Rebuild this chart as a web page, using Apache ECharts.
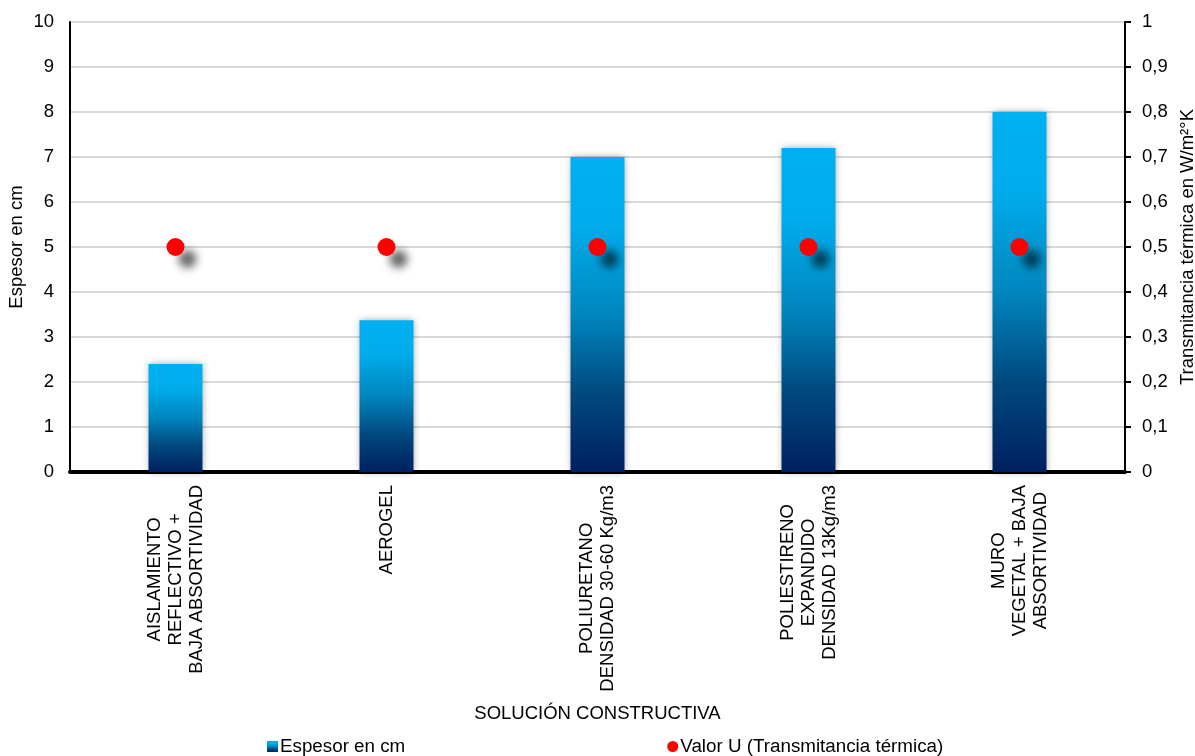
<!DOCTYPE html>
<html>
<head>
<meta charset="utf-8">
<script src="https://cdn.jsdelivr.net/npm/echarts@6/dist/echarts.min.js"></script>
<style>html,body{margin:0;padding:0;background:#fff;overflow:hidden;}#c{width:1195px;height:756px;}</style>
</head>
<body>
<div id="c"></div>
<script>
var categories = [
  'AISLAMIENTO\nREFLECTIVO +\nBAJA ABSORTIVIDAD',
  'AEROGEL',
  'POLIURETANO\nDENSIDAD 30-60 Kg/m3',
  'POLIESTIRENO\nEXPANDIDO\nDENSIDAD 13Kg/m3',
  'MURO\nVEGETAL + BAJA\nABSORTIVIDAD'
];
var espesor = [2.4, 3.37, 7, 7.2, 8];
var valorU = [0.5, 0.5, 0.5, 0.5, 0.5];
var leftTicks = [0, 1, 2, 3, 4, 5, 6, 7, 8, 9, 10];
var rightTicks = ['0', '0,1', '0,2', '0,3', '0,4', '0,5', '0,6', '0,7', '0,8', '0,9', '1'];

var FONT = '"Liberation Sans", Arial, sans-serif';
var FS = 18.5;
var chart = echarts.init(document.getElementById('c'), null, {renderer: 'canvas'});
var barGrad = new echarts.graphic.LinearGradient(0, 0, 0, 1, [
  {offset: 0, color: '#00B0F0'},
  {offset: 0.22, color: '#00ACEC'},
  {offset: 0.5, color: '#0086BE'},
  {offset: 0.75, color: '#00497F'},
  {offset: 1, color: '#002060'}
]);
var option = {
  animation: false,
  backgroundColor: '#fff',
  textStyle: {fontFamily: FONT, color: '#000'},
  grid: {left: 70, right: 70, top: 22, bottom: 284, containLabel: false, outerBoundsMode: 'none'},
  legend: {
    top: 732,
    left: 262,
    itemGap: 262,
    itemWidth: 11,
    itemHeight: 11,
    textStyle: {fontFamily: FONT, fontSize: 18.8, color: '#000', padding: [0, 0, 0, -3]},
    data: [
      {name: 'Espesor en cm', icon: 'rect'},
      {name: 'Valor U (Transmitancia térmica)', icon: 'circle', itemStyle: {color: '#FF0000'}}
    ]
  },
  xAxis: {
    type: 'category',
    data: categories,
    name: 'SOLUCIÓN CONSTRUCTIVA',
    nameLocation: 'middle',
    nameGap: 232,
    nameMoveOverlap: false,
    nameTextStyle: {fontFamily: FONT, fontSize: FS, color: '#000'},
    axisLine: {show: true, lineStyle: {color: '#000', width: 4}},
    axisTick: {show: false},
    axisLabel: {
      interval: 0,
      rotate: 90,
      margin: 13,
      fontFamily: FONT,
      fontSize: FS,
      color: '#000',
      lineHeight: 21,
      formatter: function (v) {
        return v.split('\n').map(function (l) { return '{c|' + l + '}'; }).join('\n');
      },
      rich: {c: {align: 'center', fontFamily: FONT, fontSize: FS, color: '#000', lineHeight: 21}}
    }
  },
  yAxis: [
    {
      type: 'value',
      min: 0, max: 10, interval: 1,
      name: 'Espesor en cm',
      nameLocation: 'middle',
      nameRotate: 90,
      nameGap: 44,
      nameMoveOverlap: false,
      nameTextStyle: {fontFamily: FONT, fontSize: FS, color: '#000'},
      axisLine: {show: true, lineStyle: {color: '#000', width: 2}},
      axisTick: {show: false},
      axisLabel: {
        fontFamily: FONT, fontSize: FS, color: '#000', margin: 16,
        formatter: function (v) { return String(leftTicks[Math.round(v)]); }
      },
      splitLine: {show: true, lineStyle: {color: '#D9D9D9', width: 2}}
    },
    {
      type: 'value',
      min: 0, max: 1, interval: 0.1,
      name: 'Transmitancia térmica en W/m²°K',
      nameLocation: 'middle',
      nameRotate: 90,
      nameGap: 53,
      nameTextStyle: {fontFamily: FONT, fontSize: FS, color: '#000'},
      axisLine: {show: true, lineStyle: {color: '#000', width: 2}},
      axisTick: {show: true, inside: false, length: 6, lineStyle: {color: '#000', width: 2}},
      axisLabel: {
        fontFamily: FONT, fontSize: FS, color: '#000', margin: 17,
        formatter: function (v) { return rightTicks[Math.round(v * 10)]; }
      },
      splitLine: {show: false}
    }
  ],
  series: [
    {
      name: 'Espesor en cm',
      type: 'bar',
      yAxisIndex: 0,
      barWidth: 54,
      data: espesor,
      itemStyle: {
        color: barGrad,
        shadowColor: 'rgba(0,0,0,0.35)',
        shadowBlur: 7,
        shadowOffsetX: 0,
        shadowOffsetY: 0
      },
      z: 2
    },
    {
      name: 'Valor U (Transmitancia térmica)',
      type: 'scatter',
      yAxisIndex: 1,
      symbol: 'circle',
      symbolSize: 18,
      data: valorU,
      itemStyle: {
        color: '#FF0000',
        opacity: 1,
        shadowColor: 'rgba(0,0,0,0.6)',
        shadowBlur: 9,
        shadowOffsetX: 12,
        shadowOffsetY: 12
      },
      z: 5
    }
  ]
};
chart.setOption(option);
</script>
</body>
</html>
